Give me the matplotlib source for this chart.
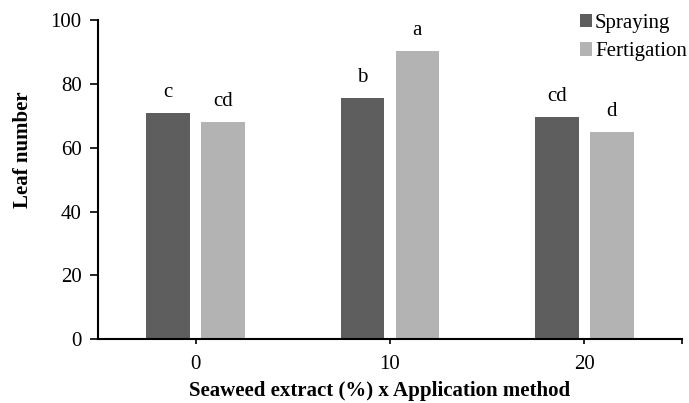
import numpy as np
import matplotlib
matplotlib.use("Agg")
import matplotlib.pyplot as plt

# ---- data ----
doses = [0, 10, 20]
spraying = [70.8, 75.7, 69.7]
fertigation = [68.0, 90.3, 64.9]
spraying_letters = ["c", "b", "cd"]
fertigation_letters = ["cd", "a", "d"]
y_ticks = [0, 20, 40, 60, 80, 100]

plt.rcParams["font.family"] = ["Liberation Serif", "DejaVu Serif"]
plt.rcParams["font.size"] = 15

dark = "#5e5e5e"
light = "#b3b3b3"

fig = plt.figure(figsize=(6.89, 4.03), dpi=100)
ax = fig.add_axes([98.3 / 689, 1 - 339.3 / 403, (681.7 - 98.3) / 689, (339.3 - 20) / 403])

x = np.array(doses, dtype=float)
width = 2.23
offset = 1.41

ax.bar(x - offset, spraying, width, color=dark, label="Spraying")
ax.bar(x + offset, fertigation, width, color=light, label="Fertigation")

for xi, v, s in zip(x - offset, spraying, spraying_letters):
    ax.text(xi, v + 5, s, ha="center", va="baseline", fontsize=15)
for xi, v, s in zip(x + offset, fertigation, fertigation_letters):
    ax.text(xi, v + 5, s, ha="center", va="baseline", fontsize=15)

ax.set_xlim(-5, 25)
ax.set_ylim(0, 100)
ax.set_yticks(y_ticks)
ax.set_xticks([0, 10, 20, 25])
ax.set_xticklabels(["0", "10", "20", ""])

for side in ["top", "right"]:
    ax.spines[side].set_visible(False)
for side in ["left", "bottom"]:
    ax.spines[side].set_linewidth(1.5)

ax.tick_params(axis="y", direction="out", length=6, width=1.2, pad=6, labelsize=15)
ax.tick_params(axis="x", direction="out", length=3.5, width=1.2, pad=8, labelsize=15)

fig.text(23 / 689, 1 - 150 / 403, "Leaf number", rotation=90, ha="center", va="center",
         fontsize=15, fontweight="bold")
fig.text(380 / 689, 1 - 391 / 403, "Seaweed extract (%) x Application method",
         ha="center", va="center", fontsize=15, fontweight="bold")

ax.legend(loc="upper right", bbox_to_anchor=(687 / 689, 1 - 14 / 403),
          bbox_transform=fig.transFigure, frameon=False, borderpad=0, borderaxespad=0,
          handlelength=0.6, handleheight=0.6, handletextpad=0.15, labelspacing=0.45,
          fontsize=15)

fig.savefig("out.png", dpi=100)
